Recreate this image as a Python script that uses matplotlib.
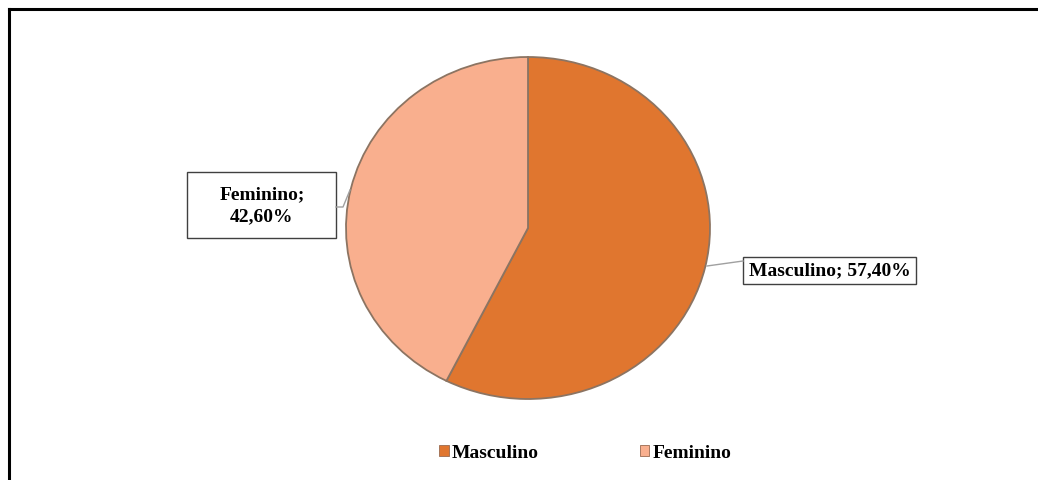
import matplotlib
matplotlib.use("Agg")
import matplotlib.pyplot as plt
from matplotlib.lines import Line2D
from matplotlib.patches import Patch, Rectangle

categories = ["Masculino", "Feminino"]
values = [57.40, 42.60]
labels = ["Masculino; 57,40%", "Feminino;\n42,60%"]
colors = ["#E0762F", "#F9AF8E"]

W, H = 1038, 480
fig = plt.figure(figsize=(W / 100, H / 100), dpi=100)
fig.patch.set_facecolor("white")

# pie axes (elliptical like reference)
cx, cy = 528, 228
rx, ry = 182, 171
ax = fig.add_axes([(cx - rx) / W, (H - cy - ry) / H, 2 * rx / W, 2 * ry / H])
wedges, _ = ax.pie(values, colors=colors, startangle=90, counterclock=False,
                   radius=1.0, wedgeprops=dict(edgecolor="#8c7462", linewidth=1.3))
ax.set_xlim(-1, 1)
ax.set_ylim(-1, 1)
ax.set_aspect("auto")
ax.axis("off")

font = "Liberation Serif"

def fpx(x, y):
    return (x / W, 1 - y / H)

def box(x0, y0, x1, y1):
    fig.add_artist(Rectangle((x0 / W, 1 - y1 / H), (x1 - x0) / W, (y1 - y0) / H,
                             transform=fig.transFigure, fc="white", ec="#404040", lw=1))

# Data labels with leader lines
box(743, 257, 916, 284)
fig.text(*fpx(830, 271), labels[0], ha="center", va="center", fontsize=14,
         fontweight="bold", family=font)
fig.add_artist(Line2D([707 / W, 743 / W], [1 - 266 / H, 1 - 261 / H],
                      color="#a0a0a0", lw=1))

box(187, 172, 336, 238)
fig.text(*fpx(262, 206), labels[1], ha="center", va="center", fontsize=14,
         fontweight="bold", family=font, linespacing=1.4)
fig.add_artist(Line2D([336 / W, 343 / W, 350 / W], [1 - 207 / H, 1 - 207 / H, 1 - 190 / H],
                      color="#a0a0a0", lw=1))

# Legend
handles = [Patch(facecolor=c, edgecolor="#9a6a50", lw=0.6) for c in colors]
leg = fig.legend(handles, categories, loc="center", bbox_to_anchor=(585 / W, 1 - 453 / H),
                 ncol=2, frameon=False, handlelength=0.5, handleheight=0.5,
                 handletextpad=0.15, columnspacing=5.2,
                 prop=dict(family=font, size=14, weight="bold"))

# top and left border lines
fig.add_artist(Line2D([9 / W, 1.0], [1 - 9 / H, 1 - 9 / H], color="black", lw=2.2))
fig.add_artist(Line2D([9 / W, 9 / W], [0, 1 - 9 / H], color="black", lw=2.2))

fig.savefig("out.png", dpi=100, facecolor="white")
